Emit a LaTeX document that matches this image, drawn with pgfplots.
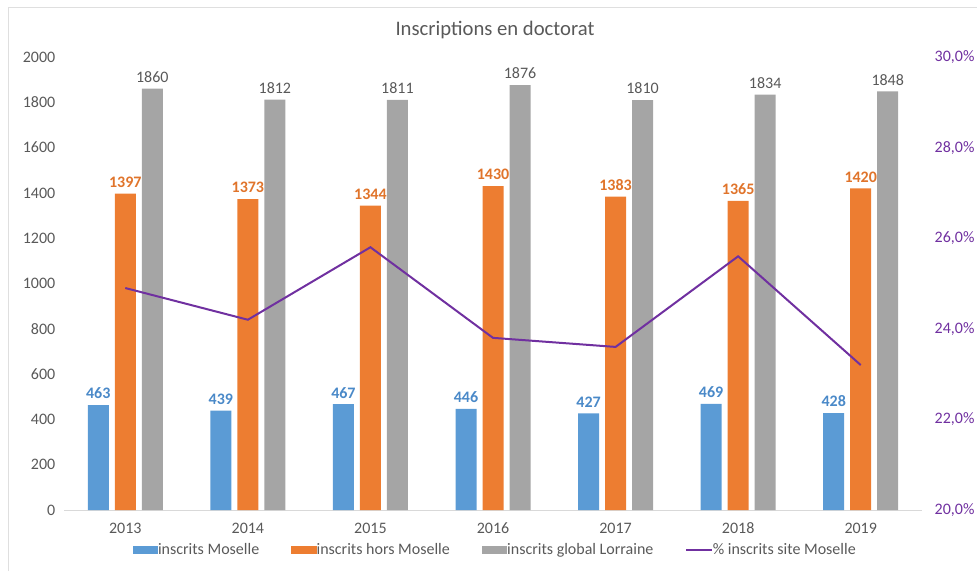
\documentclass[border=0pt]{standalone}
\usepackage{fontspec}
\setmainfont{Carlito}
\usepackage{pgfplots}
\pgfplotsset{compat=1.18}
\definecolor{cblue}{HTML}{5B9BD5}
\definecolor{corange}{HTML}{ED7D31}
\definecolor{cgray}{HTML}{A5A5A5}
\definecolor{cpurple}{HTML}{7030A0}
\definecolor{ctext}{HTML}{595959}
\definecolor{cblueL}{HTML}{4A89C8}
\definecolor{corangeL}{HTML}{E0742B}
\begin{document}
\begin{tikzpicture}
\useasboundingbox (0,0) rectangle (732.75pt,428.25pt);
\draw[gray!25, line width=0.75pt] (6pt,0) -- (6pt,422.25pt) -- (732.75pt,422.25pt);
\node[font=\fontsize{15.5}{18}\selectfont, text=ctext] at (371.25pt,405.75pt) {Inscriptions en doctorat};
\begin{axis}[
  at={(48pt,45.75pt)}, anchor=south west,
  scale only axis, width=643.5pt, height=339.75pt,
  xmin=-0.5, xmax=6.5, ymin=0, ymax=2000,
  ytick={0,200,...,2000},
  xtick={0,...,6}, xticklabels={2013,2014,2015,2016,2017,2018,2019},
  axis x line*=bottom, axis y line*=left,
  y axis line style={draw=none},
  x axis line style={draw=gray!30, line width=0.75pt, -},
  major tick length=0pt,
  /pgf/number format/assume math mode=true,
  /pgf/number format/1000 sep={},
  tick label style={font=\fontsize{12}{14}\selectfont, text=ctext},
  xticklabel style={yshift=-6pt},
  yticklabel style={xshift=-3pt},
  ybar=4.5pt, bar width=15.75pt,
  clip=false,
  legend columns=4,
  legend style={at={(0.503,-0.088)}, anchor=center, draw=none, fill=none,
    font=\fontsize{12}{14}\selectfont, text=ctext,
    /tikz/every even column/.append style={column sep=22pt},
    /tikz/every odd column/.append style={column sep=-2pt}},
  legend image code/.code={\draw[#1, draw=none] (0pt,-2.75pt) rectangle (19pt,2.75pt);},
  nodes near coords style={font=\fontsize{12}{14}\selectfont, yshift=1pt},
]
\addplot[fill=cblue, draw=none, nodes near coords, nodes near coords style={text=cblueL, font=\fontsize{12}{14}\selectfont\bfseries}]
  coordinates {(0,463) (1,439) (2,467) (3,446) (4,427) (5,469) (6,428)};
\addlegendentry{inscrits Moselle}
\addplot[fill=corange, draw=none, nodes near coords, nodes near coords style={text=corangeL, font=\fontsize{12}{14}\selectfont\bfseries}]
  coordinates {(0,1397) (1,1373) (2,1344) (3,1430) (4,1383) (5,1365) (6,1420)};
\addlegendentry{inscrits hors Moselle}
\addplot[fill=cgray, draw=none, nodes near coords, nodes near coords style={text=ctext}]
  coordinates {(0,1860) (1,1812) (2,1811) (3,1876) (4,1810) (5,1834) (6,1848)};
\addlegendentry{inscrits global Lorraine}
\addlegendimage{legend image code/.code={\draw[cpurple, line width=1.5pt] (0pt,0pt) -- (19pt,0pt);}}
\addlegendentry{\% inscrits site Moselle}
\end{axis}
\begin{axis}[
  at={(48pt,45.75pt)}, anchor=south west,
  scale only axis, width=643.5pt, height=339.75pt,
  xmin=-0.5, xmax=6.5, ymin=20, ymax=30,
  axis x line=none, axis y line*=right,
  y axis line style={draw=none},
  major tick length=0pt,
  ytick={20,22,24,26,28,30},
  yticklabels={{20,0\%},{22,0\%},{24,0\%},{26,0\%},{28,0\%},{30,0\%}},
  yticklabel style={font=\fontsize{12}{14}\selectfont, text=cpurple, xshift=6pt},
  clip=false,
]
\addplot[cpurple, line width=1.5pt, mark=none]
  coordinates {(0,24.9) (1,24.2) (2,25.8) (3,23.8) (4,23.6) (5,25.6) (6,23.2)};
\end{axis}
\end{tikzpicture}
\end{document}
